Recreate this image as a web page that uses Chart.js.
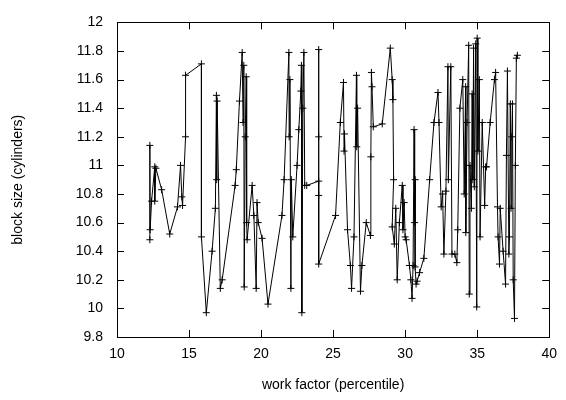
<!DOCTYPE html>
<html>
<head>
<meta charset="utf-8">
<script src="https://cdn.jsdelivr.net/npm/chart.js@4.4.1/dist/chart.umd.min.js"></script>
<style>
  html, body { margin: 0; padding: 0; background: #fff; }
  #wrap { width: 566px; height: 400px; }
</style>
</head>
<body>
<div id="wrap"><canvas id="chart"></canvas></div>
<script>
// block size vs work factor
const workFactor = [
  12.28, 12.28, 12.3, 12.4, 12.62, 12.62, 12.7, 13.1, 13.66, 14.2, 14.41, 14.5, 14.55, 14.76, 14.76,
  15.86, 15.86, 16.2, 16.6, 16.83, 16.9, 16.92, 16.95, 17.17, 17.3,
  18.2, 18.28, 18.5, 18.69, 18.75, 18.8, 18.83, 18.9, 18.97, 19.0, 19.03,
  19.38, 19.5, 19.66, 19.72, 19.8, 20.07, 20.48,
  21.45, 21.6, 21.93, 21.95, 22.0, 22.07, 22.1, 22.2, 22.5, 22.62, 22.76, 22.8, 22.83, 22.9, 22.97, 23.03,
  23.17, 24.0, 24.0, 24.0, 24.0, 24.0,
  25.17, 25.5, 25.72, 25.76, 25.79, 26.0, 26.2, 26.28, 26.45, 26.62, 26.64, 26.7, 26.9,
  27.0, 27.3, 27.59, 27.62, 27.66, 27.7, 27.79, 28.41, 28.97,
  29.1, 29.15, 29.2, 29.1, 29.25, 29.35, 29.45, 29.6, 29.8, 29.85, 29.93, 30.0, 30.07,
  30.3, 30.4, 30.48, 30.55, 30.62, 30.66, 30.7, 30.69, 30.76, 30.83, 31.0, 31.3,
  31.7, 32.0, 32.28, 32.35, 32.5, 32.6, 32.69, 32.83, 32.97, 33.0, 33.17, 33.25, 33.45, 33.59, 33.65,
  33.8, 34.0, 34.1, 34.2, 34.21, 34.3, 34.41, 34.45, 34.5, 34.6, 34.65, 34.7, 34.75, 34.8, 34.9, 34.97,
  35.0, 35.05, 35.15, 35.2, 35.35, 35.52, 35.59, 35.65, 35.9, 36.2, 36.28, 36.41, 36.45, 36.55, 36.6,
  36.8, 36.97, 37.03, 37.1, 37.2, 37.24, 37.3, 37.35, 37.4, 37.45, 37.5, 37.59, 37.65, 37.72, 37.79
];
const blockSize = [
  10.48, 11.14, 10.55, 10.75, 10.99, 10.75, 10.98, 10.83, 10.52, 10.71, 11.0, 10.78, 10.72, 11.2, 11.63,
  11.71, 10.5, 9.97, 10.4, 10.7, 11.49, 10.9, 11.45, 10.14, 10.2,
  10.86, 10.97, 11.45, 11.79, 11.3, 11.7, 10.15, 11.2, 11.62, 10.6, 10.48,
  10.86, 10.65, 10.14, 10.74, 10.6, 10.49, 10.03,
  10.65, 10.9, 11.79, 11.2, 11.6, 10.14, 10.9, 10.5, 11.0, 11.25, 11.52, 11.7, 9.97, 11.4, 11.79, 10.86,
  10.86, 10.89, 11.2, 10.79, 11.81, 10.31,
  10.65, 11.3, 11.58, 11.1, 11.22, 10.55, 10.3, 10.14, 10.5, 11.63, 11.13, 11.4, 10.12,
  10.3, 10.6, 10.51, 11.06, 11.65, 11.55, 11.27, 11.29, 11.82,
  11.6, 11.46, 10.9, 10.57, 10.45, 10.7, 10.2, 10.6, 10.86, 10.55, 10.74, 10.5, 10.48,
  10.3, 10.2, 10.07, 10.3, 11.25, 10.6, 10.9, 10.29, 10.17, 10.19, 10.25, 10.35,
  10.9, 11.3, 11.51, 11.3, 10.71, 10.8, 10.38, 10.82, 11.69, 10.9, 11.69, 10.38, 10.38, 10.32, 10.55,
  11.4, 11.6, 10.8, 11.55, 10.53, 11.3, 11.84, 10.1, 11.0, 10.7, 11.5, 10.9, 11.82, 10.85, 11.85, 10.01,
  11.89, 11.1, 11.6, 10.5, 11.3, 10.72, 10.99, 10.99, 11.3, 11.6, 11.65, 10.71, 10.5, 10.31, 10.7,
  10.4, 10.17, 11.07, 11.66, 10.38, 10.5, 11.43, 10.7, 11.2, 11.43, 10.2, 9.93, 11.0, 11.75, 11.77
];
const xTicks = [10, 15, 20, 25, 30, 35, 40];
const yTicks = [9.8, 10, 10.2, 10.4, 10.6, 10.8, 11, 11.2, 11.4, 11.6, 11.8, 12];

const FONT = "'Liberation Sans', 'DejaVu Sans', sans-serif";

// gnuplot style frame: border plus inward ticks on all four sides
const framePlugin = {
  id: "frame",
  afterDatasetsDraw(chart) {
    const { ctx, chartArea: a, scales } = chart;
    const len = 7;
    ctx.save();
    ctx.strokeStyle = "#000";
    ctx.lineWidth = 1;
    ctx.beginPath();
    scales.x.ticks.forEach((t, i) => {
      const px = Math.round(scales.x.getPixelForTick(i)) + 0.5;
      ctx.moveTo(px, a.bottom); ctx.lineTo(px, a.bottom - len);
      ctx.moveTo(px, a.top); ctx.lineTo(px, a.top + len);
    });
    scales.y.ticks.forEach((t, i) => {
      const py = Math.round(scales.y.getPixelForTick(i)) + 0.5;
      ctx.moveTo(a.left, py); ctx.lineTo(a.left + len, py);
      ctx.moveTo(a.right, py); ctx.lineTo(a.right - len, py);
    });
    ctx.stroke();
    ctx.strokeRect(Math.round(a.left) + 0.5, Math.round(a.top) + 0.5,
      Math.round(a.right - a.left), Math.round(a.bottom - a.top));
    ctx.restore();
  }
};

new Chart(document.getElementById("chart"), {
  type: "line",
  data: {
    datasets: [{
      data: workFactor.map((x, i) => ({ x, y: blockSize[i] })),
      borderColor: "#000",
      borderWidth: 1,
      pointStyle: "cross",
      pointRadius: 3.5,
      pointBorderColor: "#000",
      pointBorderWidth: 1,
      tension: 0,
      fill: false
    }]
  },
  options: {
    responsive: true,
    maintainAspectRatio: false,
    animation: false,
    layout: { padding: { top: 16, right: 15, left: 0, bottom: 0 } },
    plugins: { legend: { display: false }, tooltip: { enabled: false } },
    scales: {
      x: {
        type: "linear",
        min: 10, max: 40,
        afterBuildTicks: (s) => { s.ticks = xTicks.map(v => ({ value: v })); },
        afterFit: (s) => { s.height = 63; },
        grid: { display: false, drawTicks: false },
        border: { display: false },
        ticks: { color: "#000", padding: 9, font: { family: FONT, size: 14 } },
        title: { display: true, text: "work factor (percentile)", color: "#000",
                 padding: { top: 0, bottom: 6 }, font: { family: FONT, size: 14 } }
      },
      y: {
        type: "linear",
        min: 9.8, max: 12,
        afterBuildTicks: (s) => { s.ticks = yTicks.map(v => ({ value: v })); },
        afterFit: (s) => { s.width = 117; },
        grid: { display: false, drawTicks: false },
        border: { display: false },
        ticks: { color: "#000", padding: 14, font: { family: FONT, size: 14 },
                 callback: (v) => String(Number(v.toFixed(1))) },
        title: { display: true, text: "block size (cylinders)", color: "#000",
                 padding: { top: 10, bottom: 0 }, font: { family: FONT, size: 14 } }
      }
    }
  },
  plugins: [framePlugin]
});
</script>
</body>
</html>
